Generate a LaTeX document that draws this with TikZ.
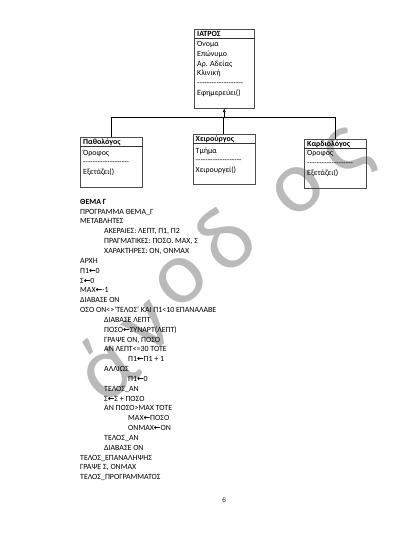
\documentclass[tikz,border=0pt]{standalone}
\usepackage{fontspec}
\setmainfont{Carlito}
\newfontfamily\symfont{DejaVu Sans}
\newfontfamily\numfont{Liberation Serif}
\usetikzlibrary{calc,arrows.meta}
\newcommand\getsym{{\symfont\bfseries ←}}
\newcommand\dashrow{\foreach\k in {1,...,19}{\mbox{-}}}
\newcommand\boxfont{\fontsize{7.9}{9.5}\selectfont}
\newcommand\codefont{\fontsize{7.9}{9.8}\selectfont}
\begin{document}
\begin{tikzpicture}[x=1pt,y=-1pt,
classbox/.style={
% class rectangle
rectangle,
draw=black!70,
line width=0.5pt,
anchor=north west,
inner sep=0pt
},
sepline/.style={draw=black!80,line width=0.5pt},
hdr/.style={anchor=base west,inner sep=0pt,font=\boxfont\bfseries},
member/.style={anchor=base west,inner sep=0pt,font=\boxfont},
codeline/.style={anchor=base west,inner sep=0pt,font=\codefont},
link/.style={draw=black,line width=0.6pt},
watermark/.style={anchor=center,inner sep=0pt,text=black!27,
  font=\fontsize{90}{90}\selectfont,rotate=41}
]
\useasboundingbox[fill=white] (0,0) rectangle (400,533);
% watermark behind everything
\foreach \ch/\x/\y [count=\i] in {ά/104/366,ν/150/328,ο/181/281,δ/224/239,ο/298/190,ς/350/157}
  \node[watermark] (mark\i) at (\x,\y) {\ch};
% class boxes
\node[classbox,minimum width=60pt,minimum height=79pt] (iatros) at (194,29) {};
\node[classbox,minimum width=62pt,minimum height=50pt] (pathologos) at (80,137) {};
\node[classbox,minimum width=62pt,minimum height=50pt] (cheirourgos) at (192.5,134) {};
\node[classbox,minimum width=62pt,minimum height=49pt] (kardiologos) at (304,139) {};
\foreach \b in {iatros,pathologos,cheirourgos,kardiologos}
  \draw[sepline] ($(\b.north west)+(0,9)$) -- ($(\b.north east)+(0,9)$);
\node[hdr] (iatrostitle) at ($(iatros.north west)+(3,7)$) {ΙΑΤΡΟΣ};
\node[hdr] (pathologostitle) at ($(pathologos.north west)+(3,7)$) {Παθολόγος};
\node[hdr] (cheirourgostitle) at ($(cheirourgos.north west)+(3,7)$) {Χειρούργος};
\node[hdr] (kardiologostitle) at ($(kardiologos.north west)+(3,7)$) {Καρδιολόγος};
\foreach \t [count=\i] in {Όνομα,Επώνυμο,Αρ. Αδείας,Κλινική,\dashrow,Εφημερεύει()}
  \node[member] (iatros\i) at ($(iatros.north west)+(3,{17.5+9.8*(\i-1)})$) {\t};
\foreach \t [count=\i] in {Όροφος,\dashrow,Εξετάζει()}
  \node[member] (pathologos\i) at ($(pathologos.north west)+(3,{18+9.8*(\i-1)})$) {\t};
\foreach \t [count=\i] in {Τμήμα,\dashrow,Χειρουργεί()}
  \node[member] (cheirourgos\i) at ($(cheirourgos.north west)+(3,{19+9.8*(\i-1)})$) {\t};
\foreach \t [count=\i] in {Όροφος,\dashrow,Εξετάζει()}
  \node[member] (kardiologos\i) at ($(kardiologos.north west)+(3,{16.5+10*(\i-1)})$) {\t};
% inheritance lines
\coordinate (bus) at ($(iatros.south)+(0,9)$);
\draw[link] (pathologos.north) |- (bus) -| (kardiologos.north);
\draw[link] (bus) -| (cheirourgos.north);
\draw[link,-{Latex[length=3.5pt,width=3pt]}] (bus) -- (iatros.south);
% program listing
\foreach \lvl/\txt [count=\i] in {
0/{\textbf{ΘΕΜΑ Γ}},
0/{ΠΡΟΓΡΑΜΜΑ ΘΕΜΑ\_Γ},
0/{ΜΕΤΑΒΛΗΤΕΣ},
1/{ΑΚΕΡΑΙΕΣ: ΛΕΠΤ, Π1, Π2},
1/{ΠΡΑΓΜΑΤΙΚΕΣ: ΠΟΣΟ. ΜΑΧ, Σ},
1/{ΧΑΡΑΚΤΗΡΕΣ: ΟΝ, ΟΝΜΑΧ},
0/{ΑΡΧΗ},
0/{Π1\getsym0},
0/{Σ\getsym0},
0/{ΜΑΧ\getsym-1},
0/{ΔΙΑΒΑΣΕ ΟΝ},
0/{ΟΣΟ ΟΝ<>'ΤΕΛΟΣ' ΚΑΙ Π1<10 ΕΠΑΝΑΛΑΒΕ},
1/{ΔΙΑΒΑΣΕ ΛΕΠΤ},
1/{ΠΟΣΟ\getsym ΣΥΝΑΡΤ(ΛΕΠΤ)},
1/{ΓΡΑΨΕ ΟΝ, ΠΟΣΟ},
1/{ΑΝ ΛΕΠΤ<=30 ΤΟΤΕ},
2/{Π1\getsym Π1 + 1},
1/{ΑΛΛΙΩΣ},
2/{Π1\getsym0},
1/{ΤΕΛΟΣ\_ΑΝ},
1/{Σ\getsym Σ + ΠΟΣΟ},
1/{ΑΝ ΠΟΣΟ>ΜΑΧ ΤΟΤΕ},
2/{ΜΑΧ\getsym ΠΟΣΟ},
2/{ΟΝΜΑΧ\getsym ΟΝ},
1/{ΤΕΛΟΣ\_ΑΝ},
1/{ΔΙΑΒΑΣΕ ΟΝ},
0/{ΤΕΛΟΣ\_ΕΠΑΝΑΛΗΨΗΣ},
0/{ΓΡΑΨΕ Σ, ΟΝΜΑΧ},
0/{ΤΕΛΟΣ\_ΠΡΟΓΡΑΜΜΑΤΟΣ}}
  \node[codeline] (line\i) at ({80+24*\lvl},{204.3+9.84*(\i-1)}) {\txt};
% page number
\node[inner sep=0pt,font=\numfont\fontsize{7}{8}\selectfont] (pagenum) at (224,500) {6};
\end{tikzpicture}
\end{document}
